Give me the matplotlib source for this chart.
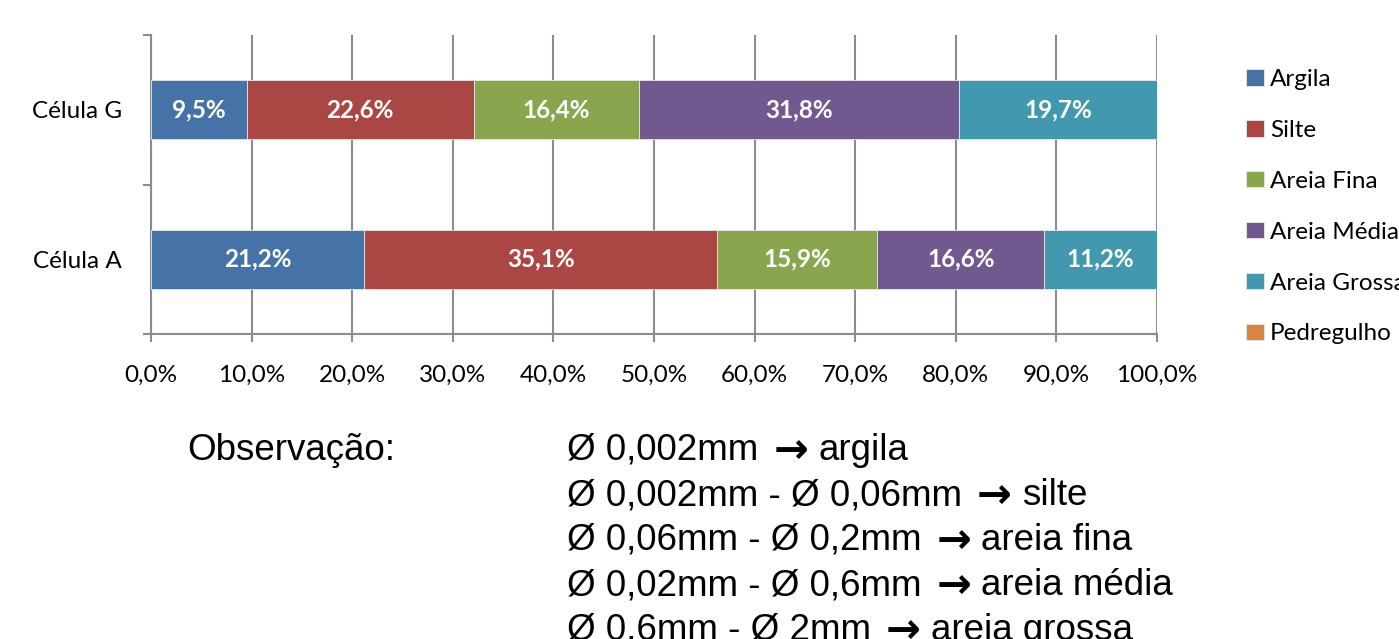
import matplotlib.pyplot as plt
from matplotlib.ticker import FuncFormatter

cells = ['Célula A', 'Célula G']
fractions = ['Argila', 'Silte', 'Areia Fina', 'Areia Média', 'Areia Grossa', 'Pedregulho']
argila = [21.2, 9.5]
silte = [35.1, 22.6]
areia_fina = [15.9, 16.4]
areia_media = [16.6, 31.8]
areia_grossa = [11.2, 19.7]
pedregulho = [0.0, 0.0]
colors = ['#4572A7', '#AA4643', '#89A54E', '#71588F', '#4198AF', '#DB843D']
note_title = 'Observação:'
note_lines = ['Ø 0,002mm → argila',
              'Ø 0,002mm - Ø 0,06mm → silte',
              'Ø 0,06mm - Ø 0,2mm → areia fina',
              'Ø 0,02mm - Ø 0,6mm → areia média',
              'Ø 0.6mm - Ø 2mm → areia grossa']

plt.rcParams['font.family'] = ['Lato', 'DejaVu Sans']
fs = 17.5
grid_c = '#8C8C8C'

fig = plt.figure(figsize=(13.99, 6.39), dpi=100)
ax = fig.add_axes([151 / 1399, 1 - 334 / 639, 1006 / 1399, 299 / 639])

series = [argila, silte, areia_fina, areia_media, areia_grossa, pedregulho]
left = [0.0] * len(cells)
handles = []
for name, vals, c in zip(fractions, series, colors):
    bars = ax.barh(range(len(cells)), vals, left=left, height=0.395, color=c,
                   edgecolor='#E8E8E8', linewidth=0.6, label=name, zorder=3)
    handles.append(bars)
    labels = [f'{v:.1f}%'.replace('.', ',') if v > 0 else '' for v in vals]
    ax.bar_label(bars, labels=labels, label_type='center', color='white',
                 fontsize=fs, fontweight='bold', zorder=4)
    left = [a + b for a, b in zip(left, vals)]

ax.set_xlim(0, 100)
ax.set_ylim(-0.5, 1.5)
ax.set_xticks(range(0, 101, 10))
ax.xaxis.set_major_formatter(FuncFormatter(lambda v, p: f'{v:.1f}%'.replace('.', ',')))
ax.set_yticks(range(len(cells)))
ax.set_yticklabels(cells)
ax.set_yticks([-0.5, 0.5, 1.5], minor=True)
ax.tick_params(axis='y', which='major', length=0, pad=21, labelsize=fs)
ax.tick_params(axis='y', which='minor', length=6, width=1.5, color=grid_c)
ax.tick_params(axis='x', length=6, width=1.5, color=grid_c, pad=16, labelsize=fs)
ax.grid(axis='x', color=grid_c, linewidth=1.5, zorder=0)
ax.set_axisbelow(True)
for s in ['top', 'right']:
    ax.spines[s].set_visible(False)
for s in ['left', 'bottom']:
    ax.spines[s].set_color(grid_c)
    ax.spines[s].set_linewidth(1.5)

fig.legend(handles, fractions, loc='upper left', bbox_to_anchor=(1246 / 1399, 1 - 69 / 639),
           frameon=False, fontsize=fs, handlelength=0.74, handleheight=0.66,
           handletextpad=0.25, labelspacing=1.23, borderpad=0, borderaxespad=0)

# observation block: the arrow is drawn separately so it can be heavier
note_font = ['Liberation Sans', 'DejaVu Sans']
renderer = fig.canvas.get_renderer()
W = fig.bbox.width
H = fig.bbox.height
fig.text(187 / 1399, 1 - 460 / 639, note_title, fontsize=26.5, family=note_font, va='baseline')
for i, line in enumerate(note_lines):
    y = 1 - (460 + 45 * i) / 639
    before, after = [p.strip() for p in line.split('→')]
    t1 = fig.text(567 / 1399, y, before, fontsize=26.5, family=note_font, va='baseline')
    x1 = t1.get_window_extent(renderer).x1 / W + 15 / W
    t2 = fig.text(x1, y - 3 / H, '→', fontsize=30, family='DejaVu Sans',
                  fontweight='bold', va='baseline')
    x2 = t2.get_window_extent(renderer).x1 / W + 10 / W
    fig.text(x2, y, after, fontsize=26.5, family=note_font, va='baseline')

fig.savefig('out.png', dpi=100)
